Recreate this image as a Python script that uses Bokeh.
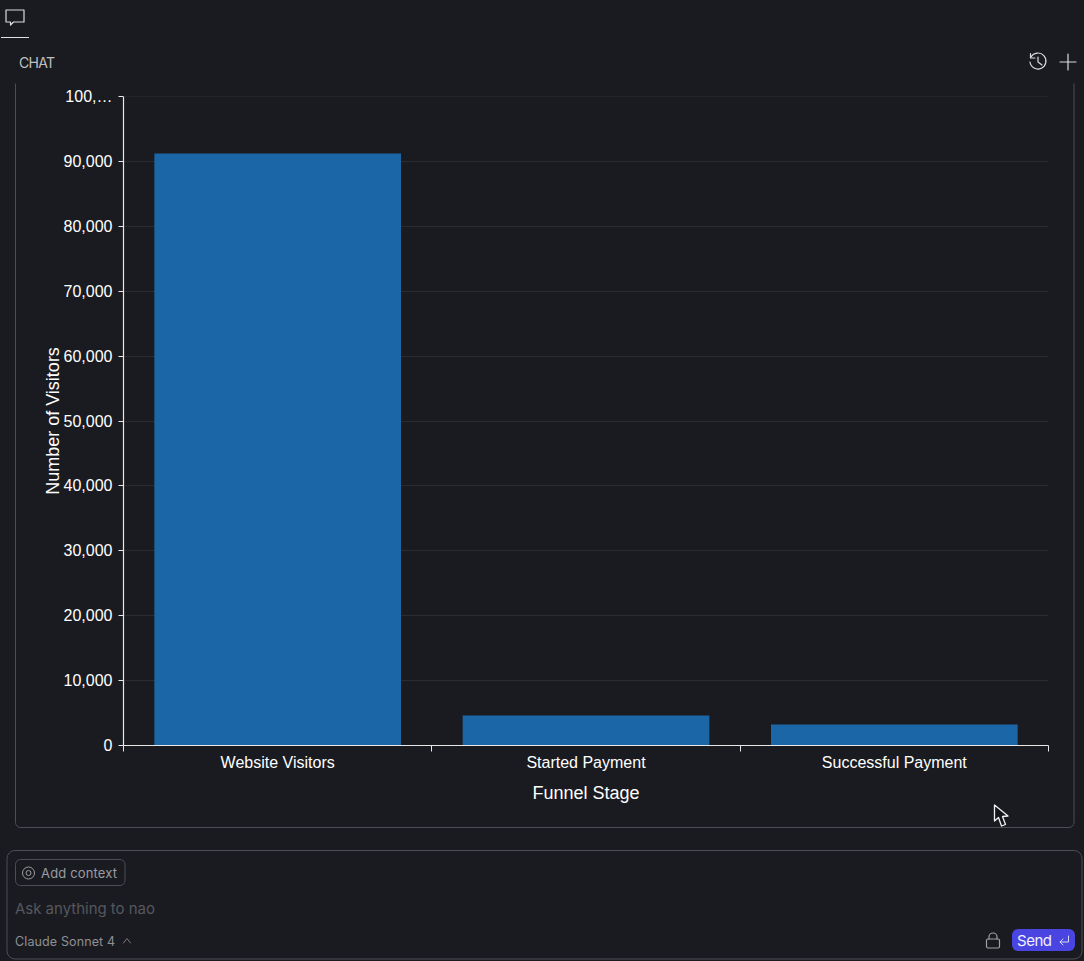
from bokeh.plotting import figure
from bokeh.embed import file_html
from bokeh.resources import INLINE
from bokeh.models import Range1d, LinearAxis, FixedTicker, Span, NumeralTickFormatter

stages = ["Website Visitors", "Started Payment", "Successful Payment"]
visitors = [91200, 4620, 3230]
y_ticks = [0, 10000, 20000, 30000, 40000, 50000, 60000, 70000, 80000, 90000, 100000]
y_max = 100000

BG = "#1a1b20"
BAR = "#1a66a6"
AXIS = "#e8e8e8"
GRID = "#2a2c31"
EDGE = "#4b4e56"

# one unit per band: labels on the band centres, tick marks on the band edges
centres = [i + 0.5 for i in range(len(stages))]
edges = list(range(len(stages) + 1))

p = figure(width=1084, height=961, output_backend="svg", toolbar_location=None,
           x_range=Range1d(0, len(stages)),
           y_range=Range1d(0, y_max), x_axis_location=None, y_axis_location=None,
           background_fill_color=BG, border_fill_color=BG,
           min_border_left=123, min_border_right=36, min_border_top=96, min_border_bottom=216)
p.outline_line_color = None
p.xgrid.visible = False

p.vbar(x=centres, top=visitors, width=0.8, fill_color=BAR, line_color=None)

# y axis
ya = LinearAxis(ticker=FixedTicker(ticks=y_ticks), formatter=NumeralTickFormatter(format="0,0"),
                axis_label="Number of Visitors", axis_label_text_font="Liberation Sans",
                axis_label_text_font_size="18px", axis_label_text_font_style="normal",
                axis_label_text_color="#ffffff", axis_label_standoff=-2,
                major_label_text_font="Liberation Sans", major_label_text_font_size="16px",
                major_label_text_color="#ffffff", major_label_standoff=6,
                major_label_overrides={100000: "100,…"},
                axis_line_color=AXIS, major_tick_line_color=AXIS, major_tick_out=5, major_tick_in=0,
                minor_tick_line_color=None, axis_line_width=1.2)
p.add_layout(ya, "left")
p.ygrid.grid_line_color = GRID
p.ygrid.ticker = FixedTicker(ticks=y_ticks)
p.add_layout(Span(location=y_max, dimension="width", line_color=GRID, line_width=1))

# x axis
xa = LinearAxis(ticker=FixedTicker(ticks=centres, minor_ticks=edges),
                major_label_overrides=dict(zip(centres, stages)),
                axis_label="Funnel Stage", axis_label_text_font="Liberation Sans",
                axis_label_text_font_size="18px", axis_label_text_font_style="normal",
                axis_label_text_color="#ffffff", axis_label_standoff=9,
                major_label_text_font="Liberation Sans", major_label_text_font_size="16px",
                major_label_text_color="#ffffff", major_label_standoff=2,
                axis_line_color=AXIS, axis_line_width=1.2,
                major_tick_line_color=None, major_tick_out=0, major_tick_in=0,
                minor_tick_line_color=AXIS, minor_tick_out=6, minor_tick_in=0)
p.add_layout(xa, "below")


# surrounding app chrome: annotations are clipped to the plot frame, so it is laid over the page
def path(d, stroke="#dcdcdc", w=1.2, fill="none"):
    return (f'<path d="{d}" stroke="{stroke}" stroke-width="{w}" fill="{fill}" '
            'stroke-linecap="round" stroke-linejoin="round"/>')


def text(x, y, s, size, color, width):
    return (f'<text x="{x}" y="{y}" font-family="Inter" font-size="{size}" fill="{color}" '
            f'dominant-baseline="central" textLength="{width}" lengthAdjust="spacing">{s}</text>')


chrome = [
    # chart panel, its top runs under the header
    path("M15.5 84 V822.5 a5 5 0 0 0 5 5 H1069 a5 5 0 0 0 5 -5 V84", EDGE, 1),
    # input panel
    f'<rect x="7" y="850.5" width="1075" height="108.5" rx="8" fill="none" stroke="{EDGE}"/>',
    f'<rect x="15.5" y="859.5" width="109.5" height="26" rx="5" fill="none" stroke="{EDGE}"/>',
    # header
    '<rect x="1" y="37" width="28" height="1" fill="#e0e0e0"/>',
    path("M6 10 H24 V22 H13.5 L10.5 25 V22 H6 Z"),
    text(19, 62, "CHAT", 14, "#c0c0c0", 36),
    path("M1031 57 A8 8 0 1 1 1030 62"),
    path("M1030.5 53.5 V58 H1035"),
    path("M1038 57 V62 L1042 65"),
    path("M1060 62 H1076"),
    path("M1068 54 V70"),
    # input contents
    '<circle cx="28.5" cy="873" r="6" fill="none" stroke="#9a9ca2"/>',
    '<circle cx="28.5" cy="873" r="2.5" fill="none" stroke="#9a9ca2"/>',
    text(41, 873, "Add context", 13, "#9a9ca2", 76),
    text(15, 908, "Ask anything to nao", 15, "#55575d", 140),
    text(15, 941, "Claude Sonnet 4", 12.5, "#8e9096", 100),
    path("M123.5 943 L127 938.5 L130.5 943", "#7a7c82", 1),
    # lock
    '<rect x="986.5" y="939" width="13" height="9" rx="1.5" fill="none" stroke="#a0a0a4" stroke-width="1.2"/>',
    path("M989 939 V937 a4 4 0 0 1 8 0 V939", "#a0a0a4"),
    # send button
    '<rect x="1012" y="929" width="63" height="22" rx="6" fill="#4a45e0"/>',
    text(1017, 940, "Send", 15, "#f0f0ff", 35),
    path("M1068.5 936 V942 H1060 M1063 939 L1060 942 L1063 945", "#d8d8ff", 1),
    # mouse pointer
    path("M994.5 805 V821 L998.5 817.5 L1001.5 826 L1005.5 824.5 L1002.5 816.5 L1008 816 Z",
         "#f0f0f0", 1.3, "#141518"),
]
overlay = ('<svg xmlns="http://www.w3.org/2000/svg" width="1084" height="961" '
           'style="position:absolute;left:0;top:0;z-index:10;pointer-events:none">'
           + "".join(chrome) + "</svg>")

html = file_html(p, INLINE)
html = html.replace("<head>", f"<head><style>html,body{{margin:0;padding:0;background:{BG};overflow:hidden}}</style>", 1)
html = html.replace("</body>", overlay + "</body>", 1)
open("out.html", "w").write(html)
